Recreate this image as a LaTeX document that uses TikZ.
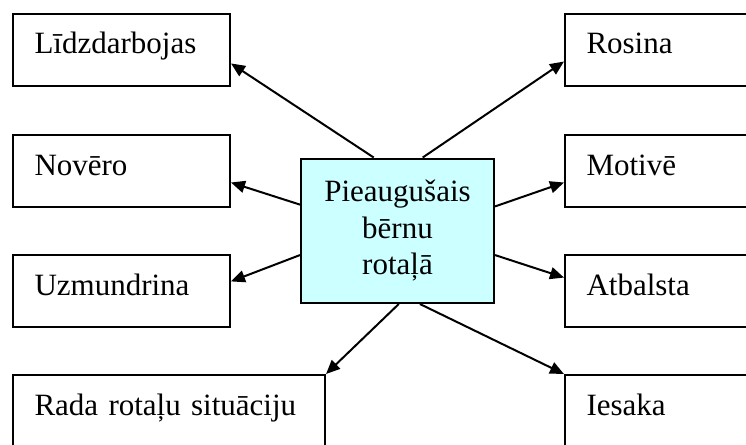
\documentclass[tikz,border=0pt]{standalone}
\usepackage{fontspec}
\setmainfont{Liberation Serif}
\usetikzlibrary{arrows.meta}
\definecolor{paleaqua}{HTML}{CCFFFF}
\tikzset{
  itembox/.style={draw, line width=2pt, anchor=north west, inner xsep=21.5pt, inner ysep=0pt,
    text height=40pt, text depth=32pt, text width=174pt, align=left,
    font=\fontsize{31}{36.7}\selectfont},
  widebox/.style={itembox, text width=269pt},
  centrebox/.style={draw, line width=2pt, fill=paleaqua, anchor=north west, inner sep=0pt,
    minimum width=193pt, minimum height=144.5pt, align=center,
    font=\fontsize{31}{36.7}\selectfont}
}
\begin{document}
\begin{tikzpicture}[x=1pt,y=-1pt]
      \useasboundingbox (0,0) rectangle (746,444);
      \clip (0,0) rectangle (746,444);
      \draw
        (12,13) node[itembox] (lidz){Līdzdarbojas}
        (12,134) node[itembox] (nov){Novēro}
        (12,254) node[itembox] (uzm){Uzmundrina}
        (12,374) node[widebox] (rada){Rada rotaļu situāciju}
        (564,13) node[itembox] (ros){Rosina}
        (564,134) node[itembox] (mot){Motivē}
        (564,254) node[itembox] (atb){Atbalsta}
        (564,374) node[itembox] (ies){Iesaka}
        (300,157.5) node[centrebox] (c){Pieaugušais\\bērnu\\rotaļā};
      \begin{scope}[line width=2pt, -{Triangle[length=14pt,width=12pt]}]
        \draw (c.108) to (lidz.-7.4);
        \draw (c.165) to (nov.-6.3);
        \draw (c.194.3) to (uzm.5.9);
        \draw (c.-89) to (rada.north east);
        \draw (c.71.2) to (ros.186.8);
        \draw (c.14.4) to (mot.186.3);
        \draw (c.-14.1) to (atb.173.7);
        \draw (c.-73.4) to (ies.north west);
      \end{scope}
    \end{tikzpicture}
\end{document}
